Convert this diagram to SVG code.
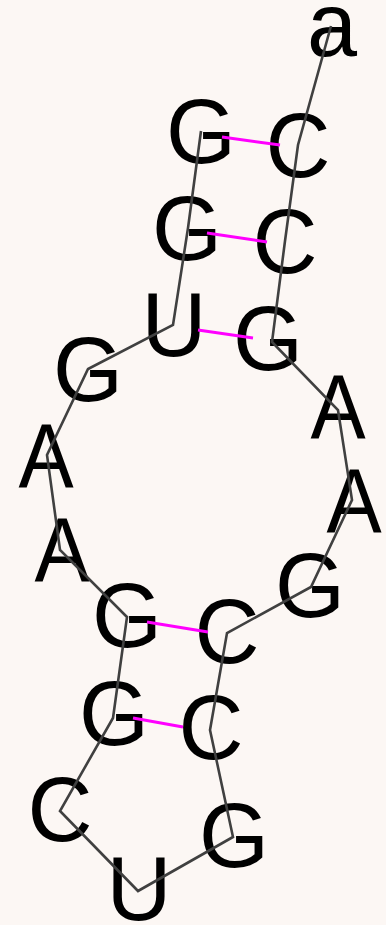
<svg xmlns="http://www.w3.org/2000/svg" width="386" height="925" viewBox="0 0 386 925">
<style>
.bg{fill:#FCF7F4}
.nt{font-family:"Liberation Sans",Arial,sans-serif;font-size:90px;fill:#000;text-anchor:middle}
.bb{fill:none;stroke:#404040;stroke-width:2.6;stroke-linejoin:miter}
.bp{stroke:#FF00FF;stroke-width:3;stroke-linecap:butt}
</style>
<rect class="bg" x="0" y="0" width="386" height="925"/>
<g id="nodes">
<g id="n1"><text class="nt" x="201" y="163">G</text></g>
<g id="n2"><text class="nt" x="187" y="260">G</text></g>
<g id="n3"><text class="nt" x="174" y="356">U</text></g>
<g id="n4"><text class="nt" x="88" y="401">G</text></g>
<g id="n5"><text class="nt" transform="translate(46,487) scale(0.92,1)">A</text></g>
<g id="n6"><text class="nt" transform="translate(62,581) scale(0.92,1)">A</text></g>
<g id="n7"><text class="nt" x="127" y="647">G</text></g>
<g id="n8"><text class="nt" x="114" y="745">G</text></g>
<g id="n9"><text class="nt" x="60" y="841">C</text></g>
<g id="n10"><text class="nt" x="139" y="920">U</text></g>
<g id="n11"><text class="nt" x="234" y="867">G</text></g>
<g id="n12"><text class="nt" x="211" y="759">C</text></g>
<g id="n13"><text class="nt" x="227" y="663">C</text></g>
<g id="n14"><text class="nt" x="310" y="617">G</text></g>
<g id="n15"><text class="nt" transform="translate(354,532) scale(0.92,1)">A</text></g>
<g id="n16"><text class="nt" transform="translate(338,438) scale(0.92,1)">A</text></g>
<g id="n17"><text class="nt" x="268" y="370">G</text></g>
<g id="n18"><text class="nt" x="285" y="273">C</text></g>
<g id="n19"><text class="nt" x="298" y="177">C</text></g>
<g id="n20"><text class="nt" x="332" y="56">a</text></g>
</g>
<g id="connectors">
<polyline class="bb" points="201,131 188,228 173,325 88,369 47,455 60,550 127,617 113,718 60,811 138,891 233,837 210,730 227,633 311,587 352,500 338,410 272,342 285,241 298,145 331,26"/>
<line class="bp" x1="222" y1="137" x2="280" y2="145"/>
<line class="bp" x1="207" y1="233" x2="267" y2="242"/>
<line class="bp" x1="198" y1="330" x2="253" y2="338"/>
<line class="bp" x1="147" y1="622" x2="208" y2="632"/>
<line class="bp" x1="133" y1="718" x2="183" y2="727"/>
</g>
</svg>
